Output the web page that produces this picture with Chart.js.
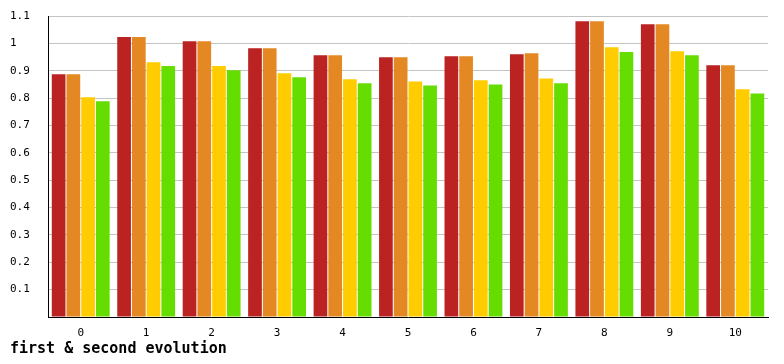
<!DOCTYPE html>
<html lang="en">
<head>
    <meta charset="UTF-8">
    <script src="https://cdn.jsdelivr.net/npm/chart.js"></script>
    <title>first &amp; second evolution</title>
    <style>
        html, body {
            margin: 0;
            padding: 0;
            background: #fff;
        }
        #wrap {
            width: 784px;
            height: 364px;
        }
    </style>
</head>
<body>
    <div id="wrap"><canvas id="chart" width="784" height="364"></canvas></div>

    <script>
        const categories = ['0', '1', '2', '3', '4', '5', '6', '7', '8', '9', '10'];

        const series1 = [0.887, 1.023, 1.008, 0.982, 0.957, 0.949, 0.953, 0.960, 1.081, 1.070, 0.920];
        const series2 = [0.887, 1.023, 1.008, 0.982, 0.957, 0.949, 0.953, 0.964, 1.081, 1.070, 0.920];
        const series3 = [0.803, 0.931, 0.917, 0.891, 0.869, 0.861, 0.865, 0.872, 0.986, 0.971, 0.832];
        const series4 = [0.788, 0.917, 0.902, 0.876, 0.854, 0.846, 0.850, 0.854, 0.968, 0.957, 0.817];

        const yTickLabels = ['', '0.1', '0.2', '0.3', '0.4', '0.5', '0.6', '0.7', '0.8', '0.9', '1', '1.1'];

        const tickFont = { family: "'DejaVu Sans Mono', monospace", size: 11 };

        function bars(label, data, color) {
            return {
                label: label,
                data: data,
                backgroundColor: color,
                borderWidth: 0,
                barPercentage: 0.93,
                categoryPercentage: 0.9
            };
        }

        new Chart(document.getElementById('chart'), {
            type: 'bar',
            data: {
                labels: categories,
                datasets: [
                    bars('first', series1, '#bb2222'),
                    bars('first b', series2, '#e38822'),
                    bars('second', series3, '#ffcc00'),
                    bars('second b', series4, '#66dd00')
                ]
            },
            options: {
                responsive: false,
                animation: false,
                layout: {
                    padding: { left: 10, right: 16, top: 16, bottom: 0 }
                },
                plugins: {
                    legend: { display: false },
                    tooltip: { enabled: false },
                    title: {
                        display: true,
                        text: 'first & second evolution',
                        position: 'bottom',
                        align: 'start',
                        color: '#000',
                        font: { family: "'DejaVu Sans Mono', monospace", size: 15, weight: 'bold' },
                        padding: { top: 0, bottom: 6 }
                    }
                },
                scales: {
                    x: {
                        afterFit: s => { s.height = 23; },
                        grid: { display: false, drawTicks: false },
                        border: { color: '#000', width: 1 },
                        ticks: { color: '#000', font: tickFont, padding: 10 }
                    },
                    y: {
                        min: 0,
                        max: 1.1,
                        afterFit: s => { s.width = 38; },
                        grid: { color: '#c4c4c4', lineWidth: 1, drawTicks: false },
                        border: { color: '#000', width: 1 },
                        ticks: {
                            stepSize: 0.1,
                            color: '#000',
                            font: tickFont,
                            crossAlign: 'far',
                            callback: (v, i) => yTickLabels[i]
                        }
                    }
                }
            }
        });
    </script>
</body>
</html>
